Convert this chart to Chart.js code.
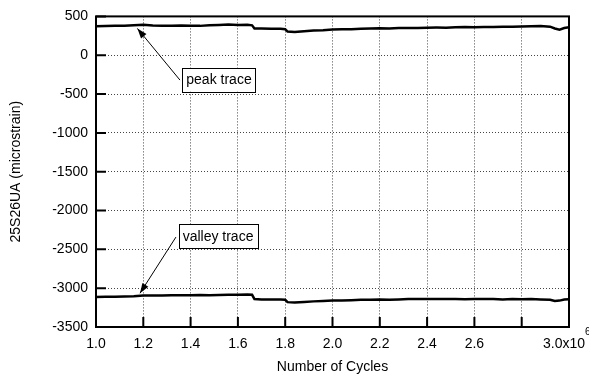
<!DOCTYPE html>
<html>
<head>
<meta charset="utf-8">
<script src="https://cdn.jsdelivr.net/npm/chart.js@4"></script>
<style>
  html, body { margin: 0; padding: 0; background: #fff; }
</style>
</head>
<body>
<canvas id="myChart" width="589" height="383"></canvas>
<script>
// number of cycles, in millions
const cycles = [
  1.00, 1.04, 1.08, 1.12, 1.16, 1.20, 1.24, 1.28, 1.32, 1.36,
  1.40, 1.44, 1.48, 1.52, 1.56, 1.60, 1.64, 1.66, 1.67, 1.70,
  1.74, 1.78, 1.80, 1.81, 1.84, 1.88, 1.92, 1.96, 2.00, 2.04,
  2.08, 2.12, 2.16, 2.20, 2.24, 2.28, 2.32, 2.36, 2.40, 2.44,
  2.48, 2.52, 2.56, 2.60, 2.64, 2.68, 2.72, 2.76, 2.80, 2.84,
  2.88, 2.92, 2.94, 2.96, 2.98, 3.00
];
const peakTrace = [
  372, 375, 378, 380, 385, 392, 382, 380, 378, 382,
  380, 378, 385, 390, 395, 388, 392, 385, 345, 345,
  342, 340, 335, 305, 300, 310, 318, 322, 330, 335,
  335, 340, 345, 348, 345, 350, 352, 350, 355, 356,
  355, 360, 362, 360, 365, 362, 366, 368, 370, 372,
  375, 368, 345, 330, 350, 360
];
const valleyTrace = [
  -3115, -3112, -3110, -3108, -3105, -3095, -3095, -3093, -3092, -3090,
  -3092, -3088, -3090, -3088, -3085, -3085, -3082, -3085, -3140, -3145,
  -3145, -3145, -3150, -3180, -3185, -3178, -3170, -3165, -3160, -3158,
  -3155, -3150, -3150, -3145, -3148, -3145, -3140, -3140, -3138, -3140,
  -3138, -3140, -3142, -3140, -3138, -3140, -3145, -3140, -3142, -3140,
  -3145, -3150, -3165, -3160, -3145, -3142
];

// text boxes with arrows, in data coordinates
const notes = [
  { text: "peak trace", tip: [1.175, 345], tail: [1.355, -320], box: [1.52, -314] },
  { text: "valley trace", tip: [1.186, -3065], tail: [1.338, -2342], box: [1.516, -2333] }
];

const FONT = "'Liberation Sans', Arial, sans-serif";

const toPoints = (vals) => cycles.map((c, i) => ({ x: c, y: vals[i] }));

const framePlugin = {
  id: "frame",
  afterDraw(chart) {
    const { ctx, chartArea: a, scales } = chart;
    const xs = scales.x, ys = scales.y;
    ctx.save();
    ctx.strokeStyle = "#000";
    ctx.lineWidth = 2;
    ctx.strokeRect(a.left, a.top, a.right - a.left, a.bottom - a.top);

    // inward ticks on bottom and left
    ctx.beginPath();
    xs.ticks.forEach((t) => {
      const px = xs.getPixelForValue(t.value);
      ctx.moveTo(px, a.bottom);
      ctx.lineTo(px, a.bottom - 10);
    });
    ys.ticks.forEach((t) => {
      const py = ys.getPixelForValue(t.value);
      ctx.moveTo(a.left, py);
      ctx.lineTo(a.left + 10, py);
    });
    ctx.stroke();

    // last x label with exponent
    ctx.fillStyle = "#000";
    ctx.font = "14px " + FONT;
    ctx.textAlign = "right";
    ctx.textBaseline = "middle";
    const xEnd = xs.getPixelForValue(3.0);
    ctx.fillText("3.0x10", xEnd + 16, 344);
    ctx.font = "10px " + FONT;
    ctx.textAlign = "left";
    ctx.fillText("6", xEnd + 16, 332);

    // annotations
    ctx.font = "14px " + FONT;
    notes.forEach((n) => {
      const tx = xs.getPixelForValue(n.tip[0]), ty = ys.getPixelForValue(n.tip[1]);
      const sx = xs.getPixelForValue(n.tail[0]), sy = ys.getPixelForValue(n.tail[1]);
      ctx.lineWidth = 1;
      ctx.beginPath();
      ctx.moveTo(sx, sy);
      ctx.lineTo(tx, ty);
      ctx.stroke();
      const ang = Math.atan2(ty - sy, tx - sx);
      ctx.beginPath();
      ctx.moveTo(tx, ty);
      ctx.lineTo(tx - 10 * Math.cos(ang) + 3.5 * Math.sin(ang), ty - 10 * Math.sin(ang) - 3.5 * Math.cos(ang));
      ctx.lineTo(tx - 10 * Math.cos(ang) - 3.5 * Math.sin(ang), ty - 10 * Math.sin(ang) + 3.5 * Math.cos(ang));
      ctx.closePath();
      ctx.fill();

      const bx = xs.getPixelForValue(n.box[0]), by = ys.getPixelForValue(n.box[1]);
      const w = ctx.measureText(n.text).width + 8, h = 24;
      ctx.fillStyle = "#fff";
      ctx.fillRect(bx - w / 2, by - h / 2, w, h);
      ctx.strokeRect(Math.round(bx - w / 2) + 0.5, Math.round(by - h / 2) + 0.5, Math.round(w), h);
      ctx.fillStyle = "#000";
      ctx.textAlign = "center";
      ctx.textBaseline = "middle";
      ctx.fillText(n.text, bx, by + 1);
    });
    ctx.restore();
  }
};

document.addEventListener("DOMContentLoaded", () => {
  const ctx = document.getElementById("myChart").getContext("2d");
  new Chart(ctx, {
    type: "line",
    data: {
      datasets: [
        { label: "peak", data: toPoints(peakTrace), borderColor: "#000", borderWidth: 2.5, pointRadius: 0, tension: 0 },
        { label: "valley", data: toPoints(valleyTrace), borderColor: "#000", borderWidth: 2.5, pointRadius: 0, tension: 0 }
      ]
    },
    options: {
      responsive: false,
      animation: false,
      layout: { padding: { top: 15, right: 20, left: 0, bottom: 0 } },
      plugins: { legend: { display: false }, tooltip: { enabled: false } },
      scales: {
        x: {
          type: "linear",
          min: 1.0,
          max: 3.0,
          afterFit: (s) => { s.height = 56; },
          ticks: {
            stepSize: 0.2,
            padding: 9,
            maxRotation: 0,
            autoSkip: false,
            color: "#000",
            font: { family: FONT, size: 14 },
            callback: (v) => (Math.abs(v - 2.8) < 1e-6 || Math.abs(v - 3.0) < 1e-6) ? "" : v.toFixed(1)
          },
          grid: { color: "#444", lineWidth: 1, drawTicks: false },
          border: { display: false, dash: [1, 2] },
          title: { display: true, text: "Number of Cycles", color: "#000", font: { family: FONT, size: 14 }, padding: { top: 0, bottom: 7 } }
        },
        y: {
          min: -3500,
          max: 500,
          afterFit: (s) => { s.width = 96; },
          ticks: {
            stepSize: 500,
            padding: 8,
            color: "#000",
            font: { family: FONT, size: 14 },
            callback: (v) => String(v)
          },
          grid: { color: "#444", lineWidth: 1, drawTicks: false },
          border: { display: false, dash: [1, 2] },
          title: { display: true, text: "25S26UA (microstrain)", color: "#000", font: { family: FONT, size: 14 }, padding: { top: 8, bottom: 0 } }
        }
      }
    },
    plugins: [framePlugin]
  });
});
</script>
</body>
</html>
